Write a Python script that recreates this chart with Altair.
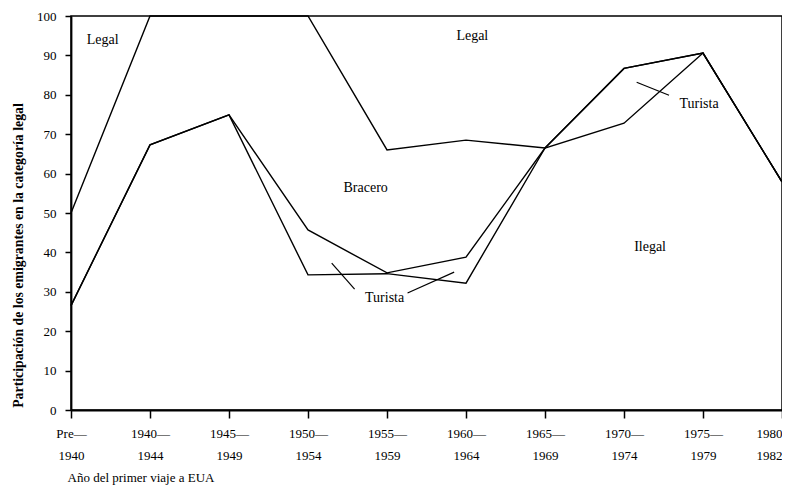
import json
import altair as alt
import pandas as pd

# ---- data ----
periodo_linea1 = ["Pre—", "1940—", "1945—", "1950—", "1955—", "1960—", "1965—", "1970—", "1975—", "1980"]
periodo_linea2 = ["1940", "1944", "1949", "1954", "1959", "1964", "1969", "1974", "1979", "1982"]
periodo_idx = list(range(10))

# boundaries between categories (% of emigrants)
limite_legal = [50.0, 100.0, 100.0, 100.0, 66.0, 68.5, 66.5, 86.7, 90.6, 57.9]
limite_bracero = [26.5, 67.3, 74.9, 45.7, 34.8, 38.8, 66.5, 86.7, 90.6, 57.9]
limite_turista = [26.5, 67.3, 74.9, 34.3, 34.6, 32.2, 66.5, 72.8, 90.6, 57.9]

etiquetas = ["Legal", "Legal", "Bracero", "Turista", "Turista", "Ilegal"]
etiqueta_x = [0.40, 5.08, 3.73, 3.97, 7.95, 7.33]
etiqueta_y = [93.9, 94.9, 56.3, 28.4, 77.7, 41.4]

guia_x = [3.30, 4.26, 7.16]
guia_x2 = [3.59, 4.85, 7.57]
guia_y = [37.3, 29.7, 83.2]
guia_y2 = [30.7, 35.0, 79.9]

y_ticks = list(range(0, 101, 10))

FONT = "Liberation Serif"

rows = []
for name, vals in [("legal", limite_legal), ("bracero", limite_bracero), ("turista", limite_turista)]:
    for i, v in zip(periodo_idx, vals):
        rows.append({"serie": name, "periodo": i, "valor": v})
df = pd.DataFrame(rows)

df_txt = pd.DataFrame({"texto": etiquetas, "x": etiqueta_x, "y": etiqueta_y})
df_guia = pd.DataFrame({"x": guia_x, "x2": guia_x2, "y": guia_y, "y2": guia_y2})

label_arr = json.dumps([[a, b] for a, b in zip(periodo_linea1, periodo_linea2)], ensure_ascii=False)

xscale = alt.Scale(domain=[0, 9], nice=False, zero=False)
yscale = alt.Scale(domain=[0, 100], nice=False)

x_axis = alt.Axis(
    values=periodo_idx,
    labelExpr=label_arr + "[datum.value]",
    labelLineHeight=22,
    labelPadding=9,
    tickSize=8,
    labelAlign={"condition": {"test": "datum.value == 9", "value": "right"}, "value": "center"},
    labelOverlap=False,
    labelFlush=False,
    title="Año del primer viaje a EUA",
    titleAnchor="start",
    titleAlign="left",
    titleBaseline="top",
    titleX=-4,
    titleY=61,
    titleFontWeight="normal",
    titleFontSize=13,
    labelFontSize=13,
)
y_axis = alt.Axis(
    values=y_ticks,
    tickSize=6,
    labelPadding=9,
    labelOverlap=False,
    title="Participación de los emigrantes en la categoría legal",
    titleX=-53,
    titleY=239,
    titleAngle=-90,
    titleBaseline="middle",
    titleFontWeight="bold",
    titleFontSize=13.8,
    labelFontSize=13,
)

X = lambda f: alt.X(f, scale=xscale, axis=x_axis)
Y = lambda f: alt.Y(f, scale=yscale, axis=y_axis)

lines = alt.Chart(df).mark_line(color="black", strokeWidth=1.4).encode(
    x=X("periodo:Q"),
    y=Y("valor:Q"),
    detail="serie:N",
)

texts = alt.Chart(df_txt).mark_text(font=FONT, fontSize=14, color="black").encode(
    x=X("x:Q"),
    y=Y("y:Q"),
    text="texto:N",
)

guias = alt.Chart(df_guia).mark_rule(color="black", strokeWidth=1.2).encode(
    x=X("x:Q"),
    x2="x2:Q",
    y=Y("y:Q"),
    y2="y2:Q",
)

chart = (
    alt.layer(lines, guias, texts)
    .properties(
        width=711,
        height=394,
        autosize=alt.AutoSizeParams(type="none"),
        padding={"left": 63, "top": 8, "right": 0, "bottom": 75},
        background="white",
    )
    .configure_view(stroke="black", strokeWidth=1.5)
    .configure_axis(
        grid=False,
        domainColor="black",
        domainWidth=1.8,
        tickColor="black",
        tickWidth=1.5,
        labelColor="black",
        titleColor="black",
        labelFont=FONT,
        titleFont=FONT,
    )
)

chart.save("out.html", embed_options={"renderer": "svg", "actions": False})
